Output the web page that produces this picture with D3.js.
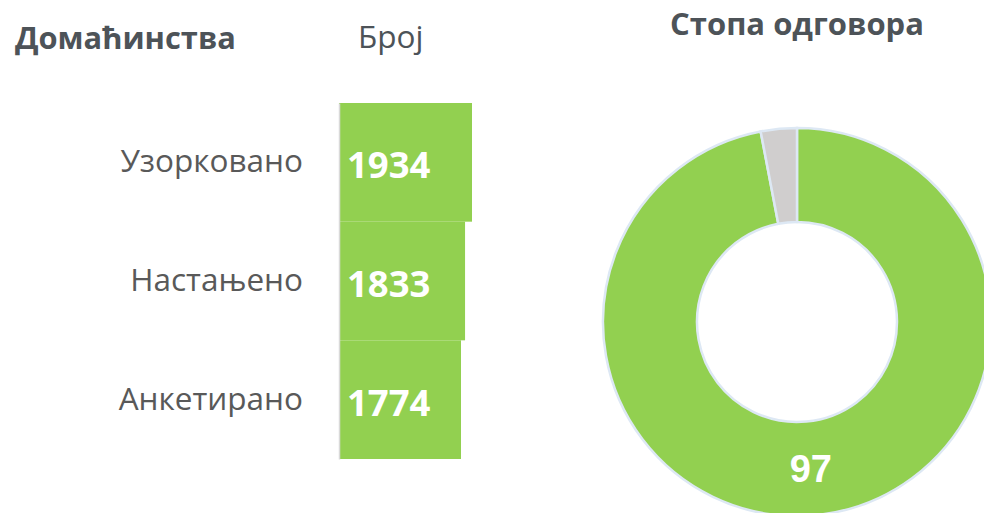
<!DOCTYPE html>
<html>
<head>
<meta charset="utf-8">
<script src="https://cdn.jsdelivr.net/npm/d3@7"></script>
<style>
  body { margin: 0; background: #fff; }
  svg { display: block; }
</style>
</head>
<body>
<svg width="984" height="513"></svg>
<script>
// data
const categories = ['Узорковано', 'Настањено', 'Анкетирано']
const counts = [1934, 1833, 1774]
const responseLabels = ['Одговорило', 'Није одговорило']
const responseValues = [97, 3]

const svg = d3.select('svg')
const green = '#92d050'

// left: bar chart
const xScale = d3.scaleLinear()
                 .domain([0, 1934])
                 .range([339, 472])
const yScale = d3.scaleBand()
                 .domain(categories)
                 .range([103, 459])
                 .padding(0)

svg.append('text')
   .attr('x', 15).attr('y', 49)
   .attr('font-family', 'Open Sans').attr('font-weight', 'bold')
   .attr('font-size', 30.8).attr('fill', '#4d5358')
   .text('Домаћинства')
svg.append('text')
   .attr('x', 358).attr('y', 48)
   .attr('font-family', 'Open Sans')
   .attr('font-size', 31.5).attr('fill', '#4d5358')
   .text('Број')

svg.selectAll('.bar')
   .data(counts)
   .enter()
   .append('rect')
   .classed('bar', true)
   .attr('x', xScale(0))
   .attr('y', (d, i) => yScale(categories[i]))
   .attr('width', d => xScale(d) - xScale(0))
   .attr('height', yScale.bandwidth())
   .attr('fill', green)

// axis line
const yAxis = svg.append('g')
   .attr('transform', `translate(${xScale(0)},0)`)
   .call(d3.axisLeft(yScale).tickSize(0).tickPadding(36))
yAxis.select('.domain').attr('stroke', '#d9d9d9').attr('stroke-width', 1.5)
yAxis.selectAll('text')
     .attr('font-family', 'Open Sans').attr('font-size', 31.5)
     .attr('fill', '#595959')

svg.selectAll('.val')
   .data(counts)
   .enter()
   .append('text')
   .classed('val', true)
   .attr('x', xScale(0) + 8)
   .attr('y', (d, i) => yScale(categories[i]) + yScale.bandwidth() / 2 + 3)
   .attr('dy', '0.36em')
   .attr('font-family', 'Open Sans').attr('font-weight', 'bold')
   .attr('font-size', 36.5).attr('fill', '#fff')
   .text(d => d)

// right: donut
const cx = 797, cy = 322
svg.append('text')
   .attr('x', cx).attr('y', 35)
   .attr('text-anchor', 'middle')
   .attr('font-family', 'Open Sans').attr('font-weight', 'bold')
   .attr('font-size', 31).attr('fill', '#4d5358')
   .text('Стопа одговора')

const pie = d3.pie().sort(null)
const arc = d3.arc().innerRadius(100).outerRadius(194)
const donut = svg.append('g').attr('transform', `translate(${cx},${cy})`)
const slices = pie(responseValues)

donut.selectAll('path')
     .data(slices)
     .enter()
     .append('path')
     .attr('d', arc)
     .attr('fill', (d, i) => i === 0 ? green : '#d0cece')
     .attr('stroke', '#dde8f4')
     .attr('stroke-width', 2.5)

donut.append('text')
     .attr('transform', `translate(${arc.centroid(slices[0])})`)
     .attr('text-anchor', 'middle')
     .attr('dy', '0.36em')
     .attr('font-family', 'Liberation Sans').attr('font-weight', 'bold')
     .attr('font-size', 38).attr('fill', '#fff')
     .text(responseValues[0])
</script>
</body>
</html>
